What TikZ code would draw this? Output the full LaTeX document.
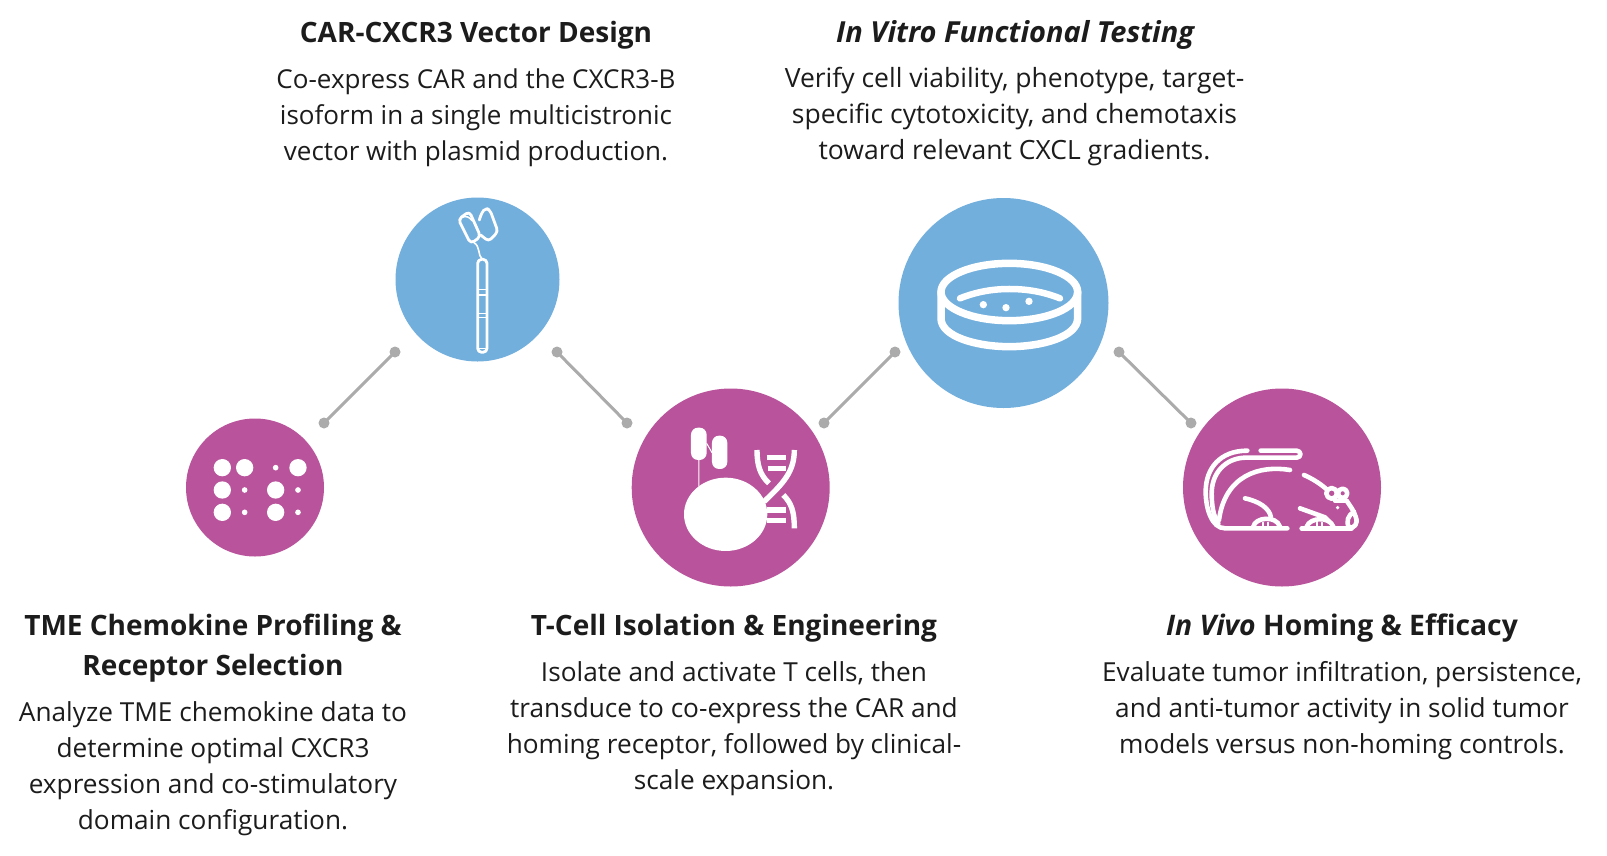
\documentclass[tikz,border=0pt]{standalone}
\usepackage{fontspec}
\setmainfont{Open Sans}
\definecolor{discblue}{HTML}{72AFDD}
\definecolor{discmag}{HTML}{B9539B}
\definecolor{linkgray}{HTML}{ABABAB}
\definecolor{inktext}{HTML}{1C1C1C}
\tikzset{
  bluedisc/.style={circle,fill=discblue,inner sep=0pt},
  magdisc/.style={circle,fill=discmag,inner sep=0pt},
  linkend/.style={circle,fill=linkgray,inner sep=0pt,minimum size=11pt},
  linkline/.style={draw=linkgray,line width=3pt},
  headtext/.style={align=center,inner sep=0pt,text=inktext,font=\fontsize{28}{40}\selectfont\bfseries},
  bodytext/.style={align=center,inner sep=0pt,text=inktext,font=\fontsize{26.2}{36}\selectfont},
  ico/.style={draw=white,line cap=round,line join=round},
}
\begin{document}
\begin{tikzpicture}[x=1pt,y=-1pt]
\useasboundingbox[fill=white] (0,0) rectangle (1607,855);
% discs
\node[bluedisc,minimum size=164pt] (c1) at (477.5,279.5) {};
\node[magdisc,minimum size=138pt] (c0) at (255,487.5) {};
\node[magdisc,minimum size=198pt] (c2) at (730.7,487.5) {};
\node[bluedisc,minimum size=210pt] (c3) at (1003.5,303) {};
\node[magdisc,minimum size=198pt] (c4) at (1282,487.5) {};
% connectors
\node[linkend] (a1) at (324,423) {}; \node[linkend] (a2) at (395,352) {};
\node[linkend] (b1) at (557,352) {}; \node[linkend] (b2) at (627,423) {};
\node[linkend] (d1) at (824,423) {}; \node[linkend] (d2) at (895,352) {};
\node[linkend] (e1) at (1119,352) {}; \node[linkend] (e2) at (1191,423) {};
\draw[linkline] (a1.center) -- (a2.center);
\draw[linkline] (b1.center) -- (b2.center);
\draw[linkline] (d1.center) -- (d2.center);
\draw[linkline] (e1.center) -- (e2.center);
% icon: dots
\begin{scope}[shift={(170,400)},scale=0.3333]
\foreach \p in {(157,203),(224,203),(384,203),(157,270),(317,270),(157,337),(317,337)}
  \fill[white] \p circle [radius=26];
\foreach \p in {(317,203),(224,270),(384,270),(224,337),(384,337)}
  \fill[white] \p circle [radius=8.5];
\end{scope}
% icon: receptor
\begin{scope}[shift={(380,180)},scale=0.3333]
\draw[ico,line width=2.8pt,rounded corners=4pt] (293,238) -- (293,517) -- (321,517) -- (321,238) -- cycle;
\draw[ico,line width=1.6pt] (294,328) -- (320,328) (294,345) -- (320,345) (294,400) -- (320,400) (294,412) -- (320,412) (298,505) -- (316,505);
\draw[ico,line width=1.6pt] (282,188) .. controls (302,200) and (292,225) .. (307,238);
\draw[ico,line width=2.8pt,rounded corners=4pt] (235,118) -- (268,94) -- (302,170) -- (272,191) -- cycle;
\draw[ico,line width=2.8pt,rounded corners=3.5pt] (298,120) -- (305,98) -- (317,84) -- (330,90) -- (354,155) -- (326,184) -- (302,165);
\draw[ico,line width=1.6pt] (246,112) .. controls (258,106) and (270,112) .. (276,122);
\end{scope}
% icon: T cell
\begin{scope}[shift={(620,380)},scale=0.3333]
\fill[white,rounded corners=7pt] (213,143) rectangle (260,240);
\fill[white,rounded corners=7pt] (276,167) rectangle (322,267);
\draw[white,line width=1pt] (237,240) -- (237,320) (260,190) -- (276,218);
\fill[white] (317,403) ellipse [x radius=125, y radius=110];
\draw[white,line width=5.4pt] (411,210) .. controls (411,255) and (420,285) .. (447,310);
\draw[white,line width=5.4pt] (523,210) .. controls (523,275) and (490,310) .. (432,365);
\draw[white,line width=5.4pt] (490,345) .. controls (515,370) and (523,395) .. (523,445);
\draw[white,line width=5.6pt] (440,233) -- (497,233) (443,265) -- (497,265) (440,390) -- (497,390) (440,422) -- (497,422);
\end{scope}
% icon: dish
\begin{scope}[shift={(890,190)},scale=0.3333]
\draw[ico,line width=7.5pt] (358,306) ellipse [x radius=205, y radius=86];
\draw[ico,line width=7.5pt] (153,306) -- (153,385) .. controls (153,440) and (260,470) .. (358,470)
  .. controls (456,470) and (563,440) .. (563,385) -- (563,306);
\draw[ico,line width=6.5pt] (210,325) .. controls (260,305) and (310,297) .. (358,297) .. controls (410,297) and (460,305) .. (510,325);
\fill[white] (280,344) circle [radius=11] (348,353) circle [radius=11] (417,334) circle [radius=11];
\end{scope}
% icon: mouse
\begin{scope}[shift={(1170,380)},scale=0.3333]
\draw[ico,line width=4.6pt] (232,212) .. controls (150,212) and (107,265) .. (107,335) .. controls (107,385) and (125,445) .. (165,445) -- (352,445);
\draw[ico,line width=4.6pt] (272,212) -- (380,212) .. controls (395,212) and (395,233) .. (380,233) -- (225,233) .. controls (165,235) and (125,280) .. (125,340) .. controls (125,375) and (130,410) .. (145,430);
\draw[ico,line width=4.6pt] (360,270) .. controls (270,255) and (165,285) .. (147,420);
\draw[ico,line width=4.6pt] (402,285) .. controls (425,295) and (450,310) .. (470,328);
\draw[ico,line width=4.6pt] (485,340) circle [radius=16] (518,340) circle [radius=14];
\draw[ico,line width=4.6pt] (495,362) -- (530,362) .. controls (540,378) and (552,392) .. (557,410) .. controls (566,432) and (552,445) .. (538,443) .. controls (526,425) and (535,405) .. (552,395);
\fill[white] (503,383) circle [radius=5.5];
\draw[ico,line width=4.6pt] (225,355) .. controls (270,365) and (298,385) .. (303,412);
\draw[ico,line width=4.6pt] (250,440) .. controls (255,412) and (318,405) .. (330,440);
\draw[ico,line width=2.2pt] (280,428) -- (280,440) (295,428) -- (295,440);
\draw[ico,line width=4.6pt] (390,385) -- (465,412) -- (478,425);
\draw[ico,line width=4.6pt] (410,440) .. controls (420,412) and (478,408) .. (490,440);
\draw[ico,line width=2.2pt] (440,428) -- (440,440) (455,428) -- (455,440);
\draw[ico,line width=4.6pt] (395,445) -- (545,445);
\end{scope}
% text
\node[headtext] (t1) at (476,35) {CAR-CXCR3 Vector Design};
\node[bodytext,font=\fontsize{26}{36}\selectfont] (b1t) at (476,118) {Co-express CAR and the CXCR3-B\\isoform in a single multicistronic\\vector with plasmid production.};
\node[headtext,font=\fontsize{29}{40}\selectfont\bfseries] (t3) at (1015,35) {\itshape In Vitro Functional Testing};
\node[bodytext,font=\fontsize{26.5}{36}\selectfont] (b3t) at (1014.5,117) {Verify cell viability, phenotype, target-\\specific cytotoxicity, and chemotaxis\\toward relevant CXCL gradients.};
\node[headtext] (t0) at (213,648) {TME Chemokine Profiling \&\\Receptor Selection};
\node[bodytext] (b0t) at (213,769) {Analyze TME chemokine data to\\determine optimal CXCR3\\expression and co-stimulatory\\domain configuration.};
\node[headtext] (t2) at (734,628) {T-Cell Isolation \& Engineering};
\node[bodytext] (b2t) at (734,729) {Isolate and activate T cells, then\\transduce to co-express the CAR and\\homing receptor, followed by clinical-\\scale expansion.};
\node[headtext,font=\fontsize{28.3}{40}\selectfont\bfseries] (t4) at (1342,628) {{\itshape In Vivo} Homing \& Efficacy};
\node[bodytext] (b4t) at (1342,711) {Evaluate tumor infiltration, persistence,\\and anti-tumor activity in solid tumor\\models versus non-homing controls.};
\end{tikzpicture}
\end{document}
